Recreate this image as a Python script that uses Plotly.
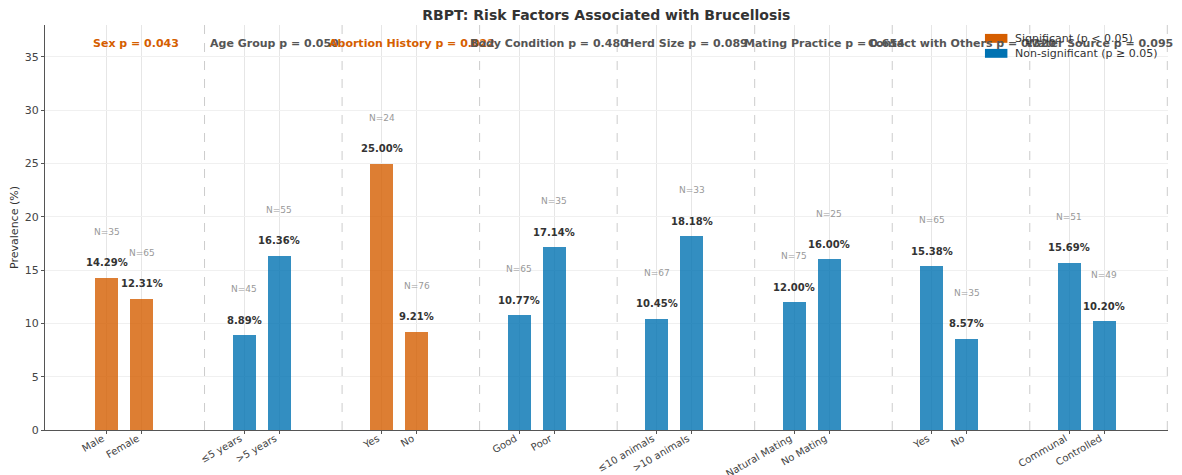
import plotly.graph_objects as go

# ---- data ----
factors = ["Sex", "Age Group", "Abortion History", "Body Condition",
           "Herd Size", "Mating Practice", "Contact with Others", "Water Source"]
p_values = [0.043, 0.050, 0.022, 0.480, 0.089, 0.654, 0.320, 0.095]
cat_a = ["Male", "≤5 years", "Yes", "Good", "≤10 animals", "Natural Mating", "Yes", "Communal"]
cat_b = ["Female", ">5 years", "No", "Poor", ">10 animals", "No Mating", "No", "Controlled"]
prev_a = [14.29, 8.89, 25.00, 10.77, 10.45, 12.00, 15.38, 15.69]
prev_b = [12.31, 16.36, 9.21, 17.14, 18.18, 16.00, 8.57, 10.20]
n_a = [35, 45, 24, 65, 67, 75, 65, 51]
n_b = [65, 55, 76, 35, 33, 25, 35, 49]
legend_labels = ["Significant (p < 0.05)", "Non-significant (p ≥ 0.05)"]

# ---- styles ----
SIG_BAR = "rgba(213,94,0,0.8)"
NON_BAR = "rgba(0,114,178,0.8)"
SIG_TXT = "#D55E00"
NON_TXT = "#555555"
FONT = "DejaVu Sans"
OFF = 0.127
BW = 0.167

xs, ys, labels, ns, sig = [], [], [], [], []
for i in range(len(factors)):
    for off, lab, v, n in ((-OFF, cat_a[i], prev_a[i], n_a[i]), (OFF, cat_b[i], prev_b[i], n_b[i])):
        xs.append(i + off)
        ys.append(v)
        labels.append(lab)
        ns.append(n)
        sig.append(p_values[i] < 0.05)

fig = go.Figure()
for flag, name, col in ((True, legend_labels[0], SIG_BAR), (False, legend_labels[1], NON_BAR)):
    fx = [x for x, s in zip(xs, sig) if s == flag]
    fy = [y for y, s in zip(ys, sig) if s == flag]
    fig.add_trace(go.Bar(x=fx, y=fy, width=BW, name=name, marker=dict(color=col, line=dict(width=0)),
                         hoverinfo="skip", showlegend=False))

annotations = []
for x, y, n in zip(xs, ys, ns):
    annotations.append(dict(x=x, y=y + 1.4, text=f"<b>{y:.2f}%</b>", showarrow=False,
                            font=dict(family=FONT, size=10, color="#333333"), yanchor="middle"))
    annotations.append(dict(x=x, y=y + 4.3, text=f"N={n}", showarrow=False,
                            font=dict(family=FONT, size=9, color="#999999"), yanchor="middle"))
for i, (f, p) in enumerate(zip(factors, p_values)):
    annotations.append(dict(x=i + 0.09, y=36.3, text=f"<b>{f} p = {p:.3f}</b>", showarrow=False,
                            font=dict(family=FONT, size=11, color=SIG_TXT if p < 0.05 else NON_TXT),
                            yanchor="middle"))

shapes = []
for i in range(len(factors)):
    shapes.append(dict(type="line", xref="x", yref="paper", x0=i + 0.585, x1=i + 0.585, y0=0, y1=1,
                       line=dict(color="#cccccc", width=1, dash="dash"), layer="below"))

# manual legend (matplotlib-style wide patches)
leg_y = [0.967, 0.930]
for lab, col, ly in zip(legend_labels, ["#D55E00", "#0072B2"], leg_y):
    shapes.append(dict(type="rect", xref="paper", yref="paper", x0=0.837, x1=0.857,
                       y0=ly - 0.011, y1=ly + 0.011, fillcolor=col, line=dict(width=0), layer="above"))
    annotations.append(dict(xref="paper", yref="paper", x=0.862, y=ly, text=lab, showarrow=False,
                            xanchor="left", yanchor="middle",
                            font=dict(family=FONT, size=11, color="#333333")))

fig.update_layout(
    width=1182, height=475,
    margin=dict(l=45, r=14, t=25, b=45),
    plot_bgcolor="white", paper_bgcolor="white",
    font=dict(family=FONT, color="#333333"),
    title=dict(text="<b>RBPT: Risk Factors Associated with Brucellosis</b>", x=0.513, xanchor="center",
               y=0.968, yanchor="middle", font=dict(family=FONT, size=14, color="#333333")),
    barmode="overlay",
    bargap=0,
    showlegend=False,
    hovermode=False,
    annotations=annotations,
    shapes=shapes,
)
fig.update_xaxes(range=[-0.575, 7.59], tickmode="array", tickvals=xs, ticktext=labels, tickangle=-30,
                 tickfont=dict(family=FONT, size=10, color="#444444"), showline=True, linecolor="#555555",
                 linewidth=1, ticks="outside", ticklen=3, tickcolor="#555555",
                 ticklabelstandoff=-5, ticklabelshift=-4,
                 showgrid=True, gridcolor="#e6e6e6", gridwidth=0.8, zeroline=False, automargin=False)
fig.update_yaxes(range=[0, 38], tickvals=[0, 5, 10, 15, 20, 25, 30, 35],
                 tickfont=dict(family=FONT, size=11, color="#444444"), showline=True, linecolor="#555555",
                 linewidth=1, ticks="outside", ticklen=3, tickcolor="#555555",
                 showgrid=True, gridcolor="#f0f0f0", gridwidth=0.8, zeroline=False,
                 title=dict(text="Prevalence (%)", font=dict(family=FONT, size=11, color="#333333"), standoff=3),
                 automargin=False)

fig.write_html("out.html", config={"displayModeBar": False},
               post_script="document.body.style.margin='0';")
